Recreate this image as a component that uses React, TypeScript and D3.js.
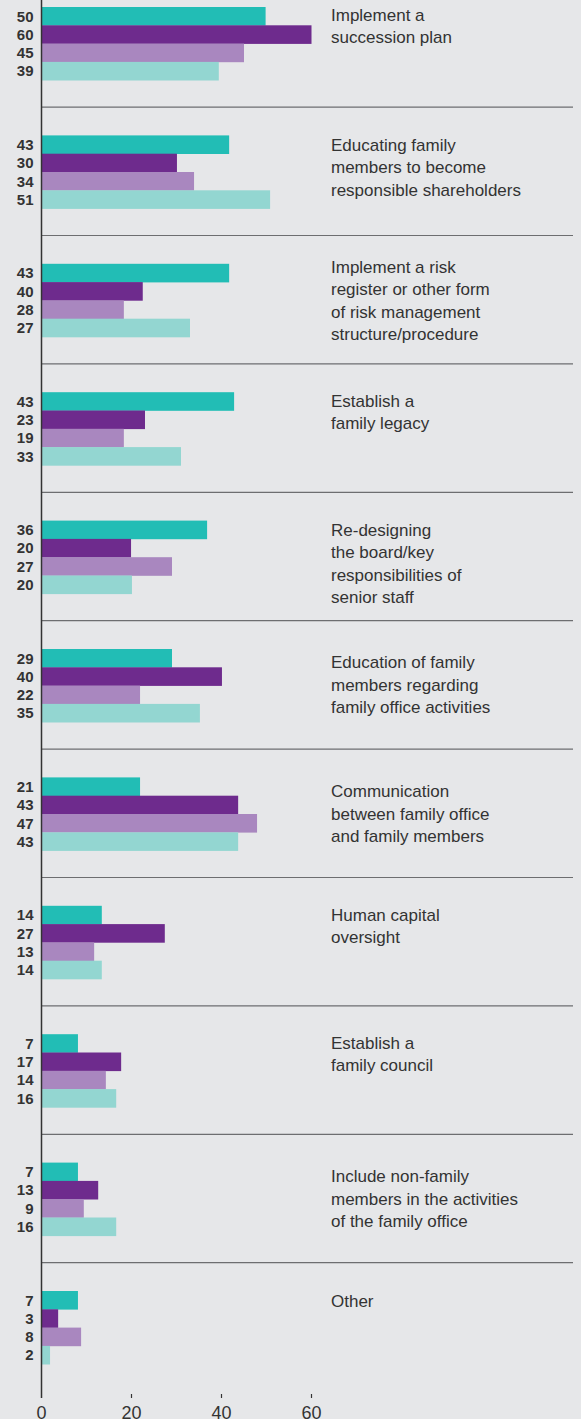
import React from "react";
import * as d3 from "d3";

// ---- data ----
const categories: string[][] = [
  ["Implement a", "succession plan"],
  ["Educating family", "members to become", "responsible shareholders"],
  ["Implement a risk", "register or other form", "of risk management", "structure/procedure"],
  ["Establish a", "family legacy"],
  ["Re-designing", "the board/key", "responsibilities of", "senior staff"],
  ["Education of family", "members regarding", "family office activities"],
  ["Communication", "between family office", "and family members"],
  ["Human capital", "oversight"],
  ["Establish a", "family council"],
  ["Include non-family", "members in the activities", "of the family office"],
  ["Other"],
];

const seriesKeys = ["s1", "s2", "s3", "s4"];

// bar lengths as drawn
const series1 = [49.8, 41.7, 41.7, 42.8, 36.8, 29, 21.9, 13.4, 8.1, 8.1, 8.1];
const series2 = [60, 30.1, 22.5, 23, 19.9, 40.1, 43.7, 27.4, 17.7, 12.6, 3.7];
const series3 = [45, 33.9, 18.3, 18.3, 29, 21.9, 47.9, 11.7, 14.3, 9.4, 8.8];
const series4 = [39.4, 50.8, 33, 31, 20.1, 35.2, 43.7, 13.4, 16.6, 16.6, 1.9];

// printed value labels
const labels1 = [50, 43, 43, 43, 36, 29, 21, 14, 7, 7, 7];
const labels2 = [60, 30, 40, 23, 20, 40, 43, 27, 17, 13, 3];
const labels3 = [45, 34, 28, 19, 27, 22, 47, 13, 14, 9, 8];
const labels4 = [39, 51, 27, 33, 20, 35, 43, 14, 16, 16, 2];

const xTicks = [0, 20, 40, 60];

// ---- layout / style ----
const W = 581;
const H = 1419;
const BG = "#e6e7e9";
const COLORS = ["#22bdb5", "#6e2b8d", "#a987bf", "#93d6d1"];
const TEXT = "#333333";
const FONT = "'Liberation Sans', Arial, Helvetica, sans-serif";
const LABEL_DY = [13.7, 15.5, 9, 14.5, 15, 19.3, 19.7, 14.7, 14.3, 19.7, 15.7];

export default function App() {
  const x = d3.scaleLinear().domain([0, 60]).range([41.5, 311.5]);
  const gy = d3.scaleLinear().domain([0, categories.length - 1]).range([7, 1291]);
  const inner = d3.scaleBand<string>().domain(seriesKeys).range([0, 73.2]).padding(0);
  const values = [series1, series2, series3, series4];
  const labels = [labels1, labels2, labels3, labels4];
  const sepOffset = 28.3;
  const axisBottom = 1398;

  return (
    <svg
      width={W}
      height={H}
      style={{ position: "absolute", left: 0, top: 0, display: "block" }}
      fontFamily={FONT}
    >
      <rect x={0} y={0} width={W} height={H} fill={BG} />
      {/* separators */}
      {categories.map((_, i) =>
        i === 0 ? null : (
          <line
            key={"sep" + i}
            x1={x(0)}
            x2={573}
            y1={gy(i) - sepOffset}
            y2={gy(i) - sepOffset}
            stroke="#6d6e70"
            strokeWidth={1.2}
          />
        )
      )}
      {/* bars */}
      {categories.map((_, i) => (
        <g key={"g" + i} transform={`translate(0,${gy(i)})`}>
          {seriesKeys.map((k, j) => (
            <g key={k}>
              <rect
                x={x(0)}
                y={inner(k)!}
                width={x(values[j][i]) - x(0)}
                height={inner.bandwidth() + 0.3}
                fill={COLORS[j]}
              />
              <text
                x={33.5}
                y={inner(k)! + inner.bandwidth() / 2 + 5.4}
                textAnchor="end"
                fontWeight="bold"
                fontSize={15}
                fill={TEXT}
              >
                {labels[j][i]}
              </text>
            </g>
          ))}
          <text x={331} y={LABEL_DY[i]} fontSize={17} fill={TEXT}>
            {categories[i].map((line, li) => (
              <tspan key={li} x={331} y={LABEL_DY[i] + li * 22.5}>
                {line}
              </tspan>
            ))}
          </text>
        </g>
      ))}
      {/* axis */}
      <line x1={x(0)} x2={x(0)} y1={0} y2={axisBottom} stroke={TEXT} strokeWidth={1.5} />
      {xTicks.map((t) => (
        <g key={"t" + t}>
          {t !== 0 && (
            <line x1={x(t)} x2={x(t)} y1={axisBottom - 4} y2={axisBottom} stroke={TEXT} strokeWidth={1.2} />
          )}
          <text x={x(t)} y={H} textAnchor="middle" fontSize={18} fill={TEXT}>
            {t}
          </text>
        </g>
      ))}
    </svg>
  );
}
